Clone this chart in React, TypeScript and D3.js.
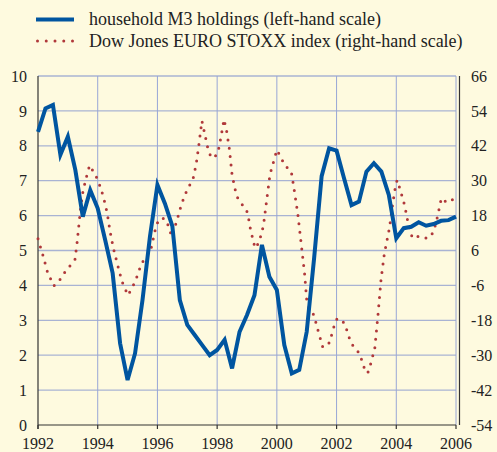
import React, { useEffect, useRef } from "react";
import * as d3 from "d3";

// household M3 holdings, quarterly from 1992 Q1 (left-hand scale)
const m3Values = [
  8.4, 9.07, 9.17, 7.74, 8.26, 7.31, 5.97, 6.73, 6.21, 5.3, 4.35, 2.34, 1.29, 2.05, 3.58, 5.4,
  6.88, 6.35, 5.7, 3.58, 2.87, 2.58, 2.29, 2.0, 2.15, 2.44, 1.62, 2.67, 3.15, 3.72, 5.16, 4.25,
  3.87, 2.29, 1.48, 1.58, 2.67, 4.8, 7.13, 7.93, 7.86, 7.07, 6.3, 6.4, 7.26, 7.5, 7.26, 6.59,
  5.35, 5.64, 5.68, 5.81, 5.71, 5.76, 5.85, 5.87, 5.97,
];
const m3Years = m3Values.map((_, i) => 1992 + i / 4);

// Dow Jones EURO STOXX index (right-hand scale)
const stoxxYears = [
  1992.0, 1992.17, 1992.32, 1992.53, 1992.73, 1992.89, 1993.07, 1993.24, 1993.31, 1993.43, 1993.51,
  1993.65, 1993.73, 1993.87, 1994.01, 1994.19, 1994.32, 1994.41, 1994.52, 1994.66, 1994.81, 1995.01,
  1995.15, 1995.28, 1995.47, 1995.64, 1995.78, 1995.97, 1996.15, 1996.3, 1996.48, 1996.65, 1996.81,
  1997.02, 1997.18, 1997.3, 1997.38, 1997.49, 1997.6, 1997.72, 1997.85, 1998.02, 1998.13, 1998.23,
  1998.32, 1998.41, 1998.5, 1998.62, 1998.71, 1998.88, 1999.02, 1999.12, 1999.27, 1999.4, 1999.55,
  1999.66, 1999.77, 1999.93, 2000.0, 2000.14, 2000.26, 2000.48, 2000.57, 2000.7, 2000.8, 2000.93,
  2001.0, 2001.08, 2001.24, 2001.39, 2001.54, 2001.76, 2001.92, 2002.02, 2002.27, 2002.44, 2002.57,
  2002.77, 2002.94, 2003.04, 2003.13, 2003.28, 2003.39, 2003.49, 2003.6, 2003.77, 2003.89, 2003.98,
  2004.03, 2004.12, 2004.28, 2004.39, 2004.54, 2004.79, 2005.05, 2005.25, 2005.39, 2005.51, 2005.69,
  2005.87, 2006.0,
];
const stoxxValues = [
  10, 4.2, -1.5, -6.2, -4.1, -1.6, 0.7, 3.0, 8.8, 20.9, 26.6,
  32.4, 35.3, 32.8, 30.2, 24.5, 18.8, 12.8, 7.0, 1.3, -4.6, -9.4,
  -6.9, -4.0, 1.6, 3.9, 6.4, 15.1, 17.3, 16.4, 10.8, 16.2, 22.1,
  27.6, 30.0, 35.8, 41.7, 50.6, 45.4, 39.6, 37.7, 39.3, 45.1, 51.1,
  46.9, 40.9, 32.0, 26.2, 23.4, 21.3, 19.0, 13.1, 6.8, 8.7, 14.5,
  23.4, 32.2, 38.0, 40.6, 38.0, 35.3, 33.3, 27.6, 18.7, 9.7, -2.1,
  -11.0, -13.7, -16.2, -21.9, -27.3, -25.7, -19.9, -17.3, -19.0, -24.5, -27.2,
  -29.4, -34.8, -36.2, -33.4, -27.6, -15.8, -3.9, 4.9, 13.7, 22.7, 28.5,
  30.2, 27.3, 21.5, 15.7, 10.2, 11.0, 10.1, 12.3, 18.1, 24.0, 22.5,
  23.3, 25.9,
];

const leftTicks = [0, 1, 2, 3, 4, 5, 6, 7, 8, 9, 10];
const rightTicks = [-54, -42, -30, -18, -6, 6, 18, 30, 42, 54, 66];
const yearTicks = [1992, 1994, 1996, 1998, 2000, 2002, 2004, 2006];

const legendLabels = [
  "household M3 holdings (left-hand scale)",
  "Dow Jones EURO STOXX index (right-hand scale)",
];

const W = 497;
const H = 452;
const BG = "#FEFADF";
const BLUE = "#0055A0";
const RED = "#B0383A";
const FONT = "Liberation Serif, DejaVu Serif, serif";

export default function App() {
  const ref = useRef<SVGSVGElement>(null);

  useEffect(() => {
    const svg = d3.select(ref.current);
    svg.selectAll("*").remove();

    const left = 38, right = 456, top = 76, bottom = 425;
    const x = d3.scaleLinear().domain([1992, 2006]).range([left, right]);
    const yL = d3.scaleLinear().domain([0, 10]).range([bottom, top]);
    const yR = d3.scaleLinear().domain([-54, 66]).range([bottom, top]);

    svg.append("rect").attr("width", W).attr("height", H).attr("fill", BG);

    // grid
    svg.append("g").selectAll("line").data(leftTicks.slice(1)).join("line")
      .attr("x1", left).attr("x2", right)
      .attr("y1", (d) => yL(d)).attr("y2", (d) => yL(d))
      .attr("stroke", "#A9B3D3").attr("stroke-width", 1.3);
    svg.append("g").selectAll("line").data(yearTicks.slice(1)).join("line")
      .attr("x1", (d) => x(d)).attr("x2", (d) => x(d))
      .attr("y1", top).attr("y2", bottom)
      .attr("stroke", "#98A6D6").attr("stroke-width", 1);

    // axes frame
    const axisCol = "#333";
    svg.append("line").attr("x1", left).attr("x2", left).attr("y1", top).attr("y2", bottom + 4)
      .attr("stroke", axisCol).attr("stroke-width", 1.2);
    svg.append("line").attr("x1", left).attr("x2", right).attr("y1", bottom).attr("y2", bottom)
      .attr("stroke", axisCol).attr("stroke-width", 1.2);
    svg.append("line").attr("x1", right + 3.5).attr("x2", right + 3.5).attr("y1", top).attr("y2", bottom)
      .attr("stroke", axisCol).attr("stroke-width", 1.2);
    svg.append("g").selectAll("line").data(yearTicks).join("line")
      .attr("x1", (d) => x(d)).attr("x2", (d) => x(d))
      .attr("y1", bottom).attr("y2", bottom + 4)
      .attr("stroke", axisCol).attr("stroke-width", 1.2);

    const text = (sel: any, size = 16) =>
      sel.style("font-family", FONT).style("font-size", `${size}px`).attr("fill", "#222");

    // tick labels
    svg.append("g").selectAll("text").data(leftTicks).join("text")
      .attr("x", 27).attr("y", (d) => yL(d)).attr("dy", "0.35em")
      .attr("text-anchor", "end").call(text)
      .text((d) => d);
    svg.append("g").selectAll("text").data(rightTicks).join("text")
      .attr("x", 471).attr("y", (d) => yR(d)).attr("dy", "0.35em")
      .call(text)
      .text((d) => d);
    svg.append("g").selectAll("text").data(yearTicks).join("text")
      .attr("x", (d) => x(d)).attr("y", 449)
      .attr("text-anchor", "middle").call(text)
      .text((d) => d);

    // series
    const stoxxLine = d3.line<number>().x((_, i) => x(stoxxYears[i])).y((d) => yR(d));
    svg.append("path").datum(stoxxValues).attr("d", stoxxLine)
      .attr("fill", "none").attr("stroke", RED).attr("stroke-width", 3)
      .attr("stroke-linecap", "round").attr("stroke-dasharray", "0 8.4");

    const m3Line = d3.line<number>().x((_, i) => x(m3Years[i])).y((d) => yL(d));
    svg.append("path").datum(m3Values).attr("d", m3Line)
      .attr("fill", "none").attr("stroke", BLUE).attr("stroke-width", 4)
      .attr("stroke-linejoin", "miter");

    // legend
    svg.append("line").attr("x1", 36).attr("x2", 74).attr("y1", 19.5).attr("y2", 19.5)
      .attr("stroke", BLUE).attr("stroke-width", 4);
    svg.append("line").attr("x1", 37.5).attr("x2", 73).attr("y1", 41).attr("y2", 41)
      .attr("stroke", RED).attr("stroke-width", 3).attr("stroke-linecap", "round")
      .attr("stroke-dasharray", "0 8.75");
    svg.append("g").selectAll("text").data(legendLabels).join("text")
      .attr("x", 89).attr("y", (_, i) => 25 + i * 21.7)
      .call(text, 18)
      .text((d) => d);
  }, []);

  return (
    <svg ref={ref} width={W} height={H}
      style={{ position: "absolute", left: 0, top: 0, display: "block" }} />
  );
}
